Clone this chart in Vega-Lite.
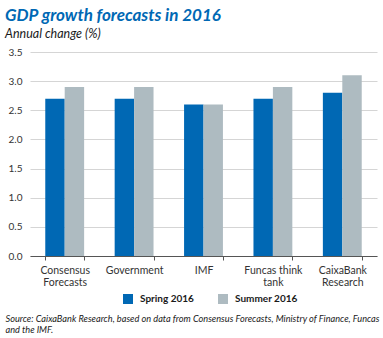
{
  "$schema": "https://vega.github.io/schema/vega-lite/v6.json",
  "width": 347,
  "height": 204,
  "padding": {"left": 5, "top": 6, "right": 6, "bottom": 5},
  "background": "white",
  "title": {
    "text": "GDP growth forecasts in 2016",
    "subtitle": "Annual change (%)",
    "anchor": "start",
    "frame": "bounds",
    "font": "Lato",
    "fontSize": 17,
    "fontWeight": "bold",
    "fontStyle": "italic",
    "color": "#0068B4",
    "subtitleFont": "Lato",
    "subtitleFontSize": 12.5,
    "subtitleFontStyle": "italic",
    "subtitleColor": "#1a1a1a",
    "subtitlePadding": 3,
    "offset": 6
  },
  "data": {
    "values": [
      {"source": "Consensus Forecasts", "season": "Spring 2016", "value": 2.7},
      {"source": "Consensus Forecasts", "season": "Summer 2016", "value": 2.9},
      {"source": "Government", "season": "Spring 2016", "value": 2.7},
      {"source": "Government", "season": "Summer 2016", "value": 2.9},
      {"source": "IMF", "season": "Spring 2016", "value": 2.6},
      {"source": "IMF", "season": "Summer 2016", "value": 2.6},
      {"source": "Funcas think tank", "season": "Spring 2016", "value": 2.7},
      {"source": "Funcas think tank", "season": "Summer 2016", "value": 2.9},
      {"source": "CaixaBank Research", "season": "Spring 2016", "value": 2.8},
      {"source": "CaixaBank Research", "season": "Summer 2016", "value": 3.1}
    ]
  },
  "mark": {"type": "bar"},
  "encoding": {
    "x": {
      "field": "source",
      "type": "nominal",
      "sort": null,
      "scale": {"paddingInner": 0.44, "paddingOuter": 0.22},
      "axis": {
        "title": ["Source: CaixaBank Research, based on data from Consensus Forecasts, Ministry of Finance, Funcas", "and the IMF."],
        "titleFont": "Lato",
        "titleFontSize": 9.2,
        "titleFontStyle": "italic",
        "titleFontWeight": "normal",
        "titleColor": "#1a1a1a",
        "titleAnchor": "start",
        "titleAlign": "left",
        "titleBaseline": "top",
        "titleX": -25,
        "titleY": 58,
        "titleLineHeight": 11.5,
        "labelAngle": 0,
        "labelFont": "Lato",
        "labelFontSize": 10.5,
        "labelColor": "#333333",
        "labelPadding": 5,
        "labelLineHeight": 12,
        "labelExpr": "datum.label == 'Consensus Forecasts' ? ['Consensus', 'Forecasts'] : datum.label == 'Funcas think tank' ? ['Funcas think', 'tank'] : datum.label == 'CaixaBank Research' ? ['CaixaBank', 'Research'] : datum.label",
        "tickBand": "extent",
        "tickSize": 4,
        "tickColor": "#555555",
        "domainColor": "#555555",
        "grid": false
      }
    },
    "xOffset": {"field": "season", "type": "nominal", "sort": ["Spring 2016", "Summer 2016"]},
    "y": {
      "field": "value",
      "type": "quantitative",
      "scale": {"domain": [0, 3.5]},
      "axis": {
        "title": null,
        "values": [0, 0.5, 1, 1.5, 2, 2.5, 3, 3.5],
        "format": ".1f",
        "labelFont": "Lato",
        "labelFontSize": 10,
        "labelColor": "#333333",
        "labelPadding": 8,
        "domain": false,
        "ticks": false,
        "gridColor": "#d5d5d5",
        "gridWidth": 1
      }
    },
    "color": {
      "field": "season",
      "type": "nominal",
      "sort": ["Spring 2016", "Summer 2016"],
      "scale": {"domain": ["Spring 2016", "Summer 2016"], "range": ["#0068B4", "#AEBBC1"]},
      "legend": {
        "title": null,
        "orient": "none",
        "direction": "horizontal",
        "legendX": 93,
        "legendY": 242,
        "symbolType": "square",
        "symbolSize": 100,
        "symbolStrokeWidth": 0,
        "labelFont": "Lato",
        "labelFontSize": 10,
        "labelFontWeight": "bold",
        "labelColor": "#1a1a1a",
        "labelOffset": 7,
        "columnPadding": 24
      }
    }
  },
  "config": {
    "view": {"stroke": null}
  }
}
